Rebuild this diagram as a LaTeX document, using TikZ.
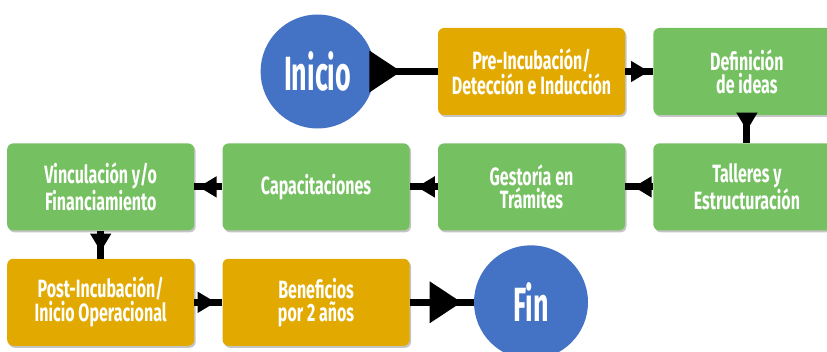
\documentclass[tikz,border=0pt]{standalone}
\usepackage{fontspec}
\setmainfont{Fira Sans}[FakeStretch=0.64]
\newfontfamily\grande{Fira Sans}[FakeStretch=0.56]
\usetikzlibrary{positioning,arrows.meta,decorations.markings,shadows}

\definecolor{azul}{RGB}{68,114,196}
\definecolor{oro}{RGB}{226,170,0}
\definecolor{verde}{RGB}{117,192,96}

\tikzset{
  paso/.style={rectangle, rounded corners=6pt, minimum width=187pt, minimum height=87pt,
    align=center, text=white, font=\bfseries\fontsize{25}{23}\selectfont,
    drop shadow={shadow xshift=1.5pt, shadow yshift=-2pt, fill=black!45, opacity=0.5}},
  etapa/.style={paso, fill=oro},
  tarea/.style={paso, fill=verde},
  extremo/.style={circle, fill=azul, minimum size=114pt, inner sep=0pt, text=white,
    font=\grande\bfseries\fontsize{48}{48}\selectfont},
  flujo/.style={line width=7pt, draw=black, postaction={decorate},
    decoration={markings, mark=at position #1 with {\arrow{Triangle[length=18pt,width=20pt]}}}},
  flujoG/.style={line width=7pt, draw=black, postaction={decorate},
    decoration={markings, mark=at position #1 with {\arrow{Triangle[length=32pt,width=40pt]}}}},
  node distance=28pt
}

\begin{document}
\begin{tikzpicture}[x=1pt,y=1pt]
  \clip (0,0) rectangle (827,-352);

  % primera fila
  \node[etapa] (pre) at (531.5,-71.5) {Pre-Incubación/\\Detección e Inducción};
  \node[extremo, left=63pt of pre] (inicio) {Inicio};
  \node[tarea, right=of pre] (def) {Definición\\de ideas};

  % segunda fila
  \node[tarea, below=of def] (talleres) {Talleres y\\Estructuración};
  \node[tarea, left=of talleres] (gestoria) {Gestoría en\\Trámites};
  \node[tarea, left=of gestoria] (capac) {Capacitaciones};
  \node[tarea, left=of capac] (vincul) {Vinculación y/o\\Financiamiento};

  % tercera fila
  \node[etapa, below=of vincul] (post) {Post-Incubación/\\Inicio Operacional};
  \node[etapa, right=of post] (benef) {Beneficios\\por 2 años};
  \node[extremo, right=64pt of benef] (fin) {Fin};

  % conectores
  \draw[flujoG=0.42] (inicio) -- (pre);
  \foreach \a/\b/\p in {pre/def/0.85, def/talleres/0.55, talleres/gestoria/0.7,
      gestoria/capac/0.75, capac/vincul/0.85, vincul/post/0.75, post/benef/0.76}
    \draw[flujo=\p] (\a) -- (\b);
  \draw[flujoG=0.81] (benef) -- (fin);
\end{tikzpicture}
\end{document}
